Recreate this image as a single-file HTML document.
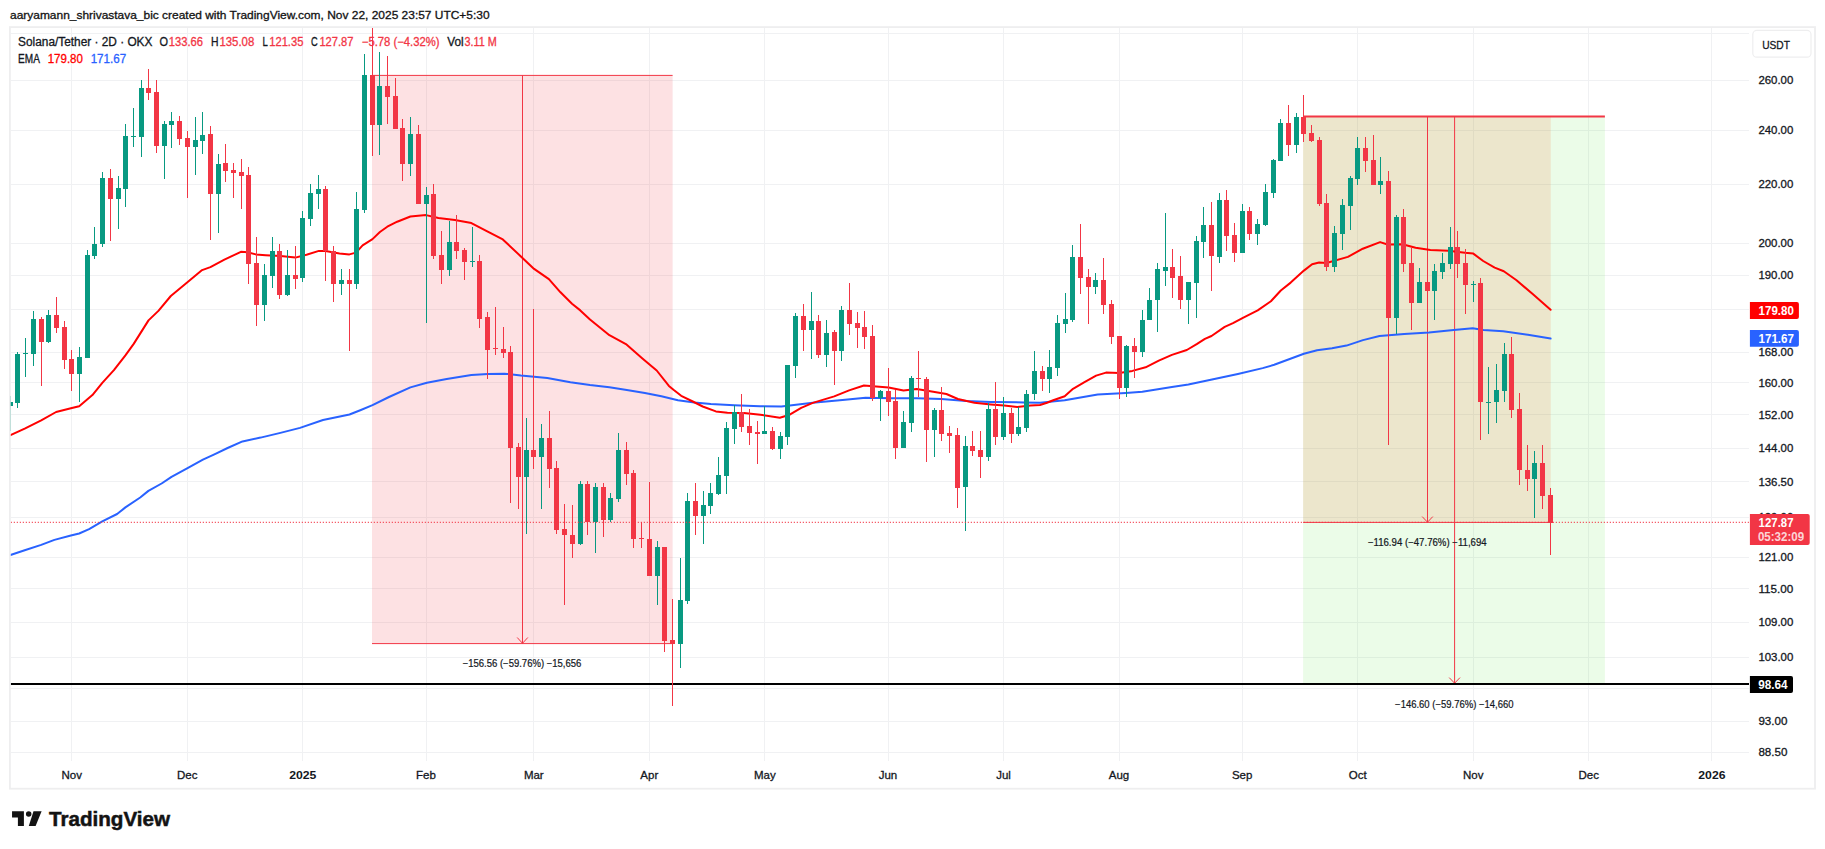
<!DOCTYPE html>
<html><head><meta charset="utf-8"><title>SOLUSDT chart</title>
<style>html,body{margin:0;padding:0;background:#fff;overflow:hidden}body{width:1825px;height:849px}</style></head>
<body>
<svg width="1825" height="849" viewBox="0 0 1825 849" font-family="Liberation Sans, Arial, sans-serif" style="display:block">
<rect width="1825" height="849" fill="#fff"/>
<defs><clipPath id="pane"><rect x="10.8" y="28.0" width="1738.2" height="733.0"/></clipPath></defs>
<rect x="9.9" y="27.1" width="1805.1" height="761.6" fill="none" stroke="#eeeeef" stroke-width="1.8"/>
<g stroke="#f0f1f3" stroke-width="1" shape-rendering="crispEdges">
<line x1="71.5" y1="28.0" x2="71.5" y2="761.0"/>
<line x1="187.5" y1="28.0" x2="187.5" y2="761.0"/>
<line x1="302.5" y1="28.0" x2="302.5" y2="761.0"/>
<line x1="426.5" y1="28.0" x2="426.5" y2="761.0"/>
<line x1="533.5" y1="28.0" x2="533.5" y2="761.0"/>
<line x1="649.5" y1="28.0" x2="649.5" y2="761.0"/>
<line x1="764.5" y1="28.0" x2="764.5" y2="761.0"/>
<line x1="888.5" y1="28.0" x2="888.5" y2="761.0"/>
<line x1="1003.5" y1="28.0" x2="1003.5" y2="761.0"/>
<line x1="1119.5" y1="28.0" x2="1119.5" y2="761.0"/>
<line x1="1242.5" y1="28.0" x2="1242.5" y2="761.0"/>
<line x1="1357.5" y1="28.0" x2="1357.5" y2="761.0"/>
<line x1="1473.5" y1="28.0" x2="1473.5" y2="761.0"/>
<line x1="1588.5" y1="28.0" x2="1588.5" y2="761.0"/>
<line x1="1711.5" y1="28.0" x2="1711.5" y2="761.0"/>
<line x1="10.8" y1="33.5" x2="1749.0" y2="33.5"/>
<line x1="10.8" y1="80.5" x2="1749.0" y2="80.5"/>
<line x1="10.8" y1="130.5" x2="1749.0" y2="130.5"/>
<line x1="10.8" y1="184.5" x2="1749.0" y2="184.5"/>
<line x1="10.8" y1="243.5" x2="1749.0" y2="243.5"/>
<line x1="10.8" y1="275.5" x2="1749.0" y2="275.5"/>
<line x1="10.8" y1="309.5" x2="1749.0" y2="309.5"/>
<line x1="10.8" y1="352.5" x2="1749.0" y2="352.5"/>
<line x1="10.8" y1="382.5" x2="1749.0" y2="382.5"/>
<line x1="10.8" y1="414.5" x2="1749.0" y2="414.5"/>
<line x1="10.8" y1="448.5" x2="1749.0" y2="448.5"/>
<line x1="10.8" y1="481.5" x2="1749.0" y2="481.5"/>
<line x1="10.8" y1="517.5" x2="1749.0" y2="517.5"/>
<line x1="10.8" y1="557.5" x2="1749.0" y2="557.5"/>
<line x1="10.8" y1="588.5" x2="1749.0" y2="588.5"/>
<line x1="10.8" y1="622.5" x2="1749.0" y2="622.5"/>
<line x1="10.8" y1="657.5" x2="1749.0" y2="657.5"/>
<line x1="10.8" y1="688.5" x2="1749.0" y2="688.5"/>
<line x1="10.8" y1="721.5" x2="1749.0" y2="721.5"/>
<line x1="10.8" y1="752.5" x2="1749.0" y2="752.5"/>
</g>
<g clip-path="url(#pane)">
<rect x="1303.1" y="116.6" width="301.8000000000002" height="567.4" fill="rgb(60,230,30)" fill-opacity="0.1"/>
<rect x="1303.1" y="116.6" width="247.70000000000005" height="405.79999999999995" fill="rgb(240,120,60)" fill-opacity="0.16"/>
<rect x="372" y="75.4" width="300.6" height="568.2" fill="#f23645" fill-opacity="0.15"/>
<g stroke="#f23645" stroke-width="1" fill="none">
<line x1="372" y1="75.4" x2="672.6" y2="75.4"/>
<line x1="372" y1="643.6" x2="672.6" y2="643.6"/>
<line x1="522.5" y1="75.4" x2="522.5" y2="643.6"/>
<polyline points="517.2,637.5 522.5,643.3 527.8,637.5"/>
<line x1="1303.1" y1="116.6" x2="1604.9" y2="116.6" stroke-width="2"/>
<line x1="1303.1" y1="522.4" x2="1550.8" y2="522.4"/>
<line x1="1427.5" y1="116.6" x2="1427.5" y2="522.4"/>
<polyline points="1422.2,516.6 1427.5,522.2 1432.8,516.6"/>
<line x1="1454.6" y1="116.6" x2="1454.6" y2="683"/>
<polyline points="1449.2,677.6 1454.6,683.2 1460,677.6"/>
</g>
<line x1="10.8" y1="684" x2="1749.0" y2="684" stroke="#000" stroke-width="2.2"/>
<polyline fill="none" stroke="#2962ff" stroke-width="2" stroke-linejoin="round" stroke-linecap="round" points="10.5,555 24.7,550.3 41.2,544.9 54.4,539.9 70.9,535.5 79.2,533.5 89.1,529.2 102.3,521.4 117.1,514 125.4,507.4 140.2,497.5 148.4,490.9 161.6,483.5 171.5,476.9 188,467.8 202.9,459.6 214.4,454.3 227.6,448 242.5,441.4 260.6,437.6 280.4,432.9 300,427.9 323,420 349.5,414.5 360.9,410 372.5,405.2 389,397 410.4,387.4 426.9,382.7 446.7,378.9 471.4,374.9 487.9,373.9 504.4,373.7 520.9,375.6 547.3,378 570.4,382.2 590,385 609.4,387.3 626.8,390 644.9,393 661.4,396.3 677.9,400.2 694.4,402.4 710.9,404 734,405.2 760,406.3 781.4,406.6 812.8,402.8 842.5,400 865.6,397.8 891.9,398.3 916.7,398.3 941.4,399 966.2,401.1 990.9,401.9 1023.9,402.4 1040,402.8 1064.7,400.3 1097.7,394.5 1125.8,392.9 1142.3,391.7 1171.9,387.1 1188.4,384.6 1213.2,379.2 1237.9,373.9 1262.7,368.1 1274.2,364.8 1303.9,353.8 1317.1,350.3 1332,348.3 1346.5,345.6 1363,340.1 1379.5,336 1404.2,334 1429,332.4 1453.7,329.9 1472.7,328.2 1483.4,329.9 1503.2,331.2 1527.9,334.8 1550.6,338.6"/>
<polyline fill="none" stroke="#ff0000" stroke-width="2" stroke-linejoin="round" stroke-linecap="round" points="10.5,435.2 24.7,428.6 41.2,420.4 56.1,412 70.9,408.3 79.2,406.2 92.4,395.1 102.3,382.8 113.9,370.1 125.4,355.4 133.7,343.9 148.5,320.4 158.4,310.9 170.8,296 186.5,283.1 202.1,270.1 210.4,267.1 224.4,259.7 240.9,251.8 247.5,252.3 255.8,254.4 265.7,255.2 280.5,256.1 295.4,257.6 306.5,254.7 318.9,250.9 325.5,251.1 339.5,253.4 349.4,254.4 356,252.6 362.6,245.3 372.5,239.1 379.9,232 387.3,226.7 397.2,221.7 410.4,216.5 426.1,215.1 438.4,218 454.9,220.1 471.4,223.1 486.3,230.8 502.8,239.4 520.9,256.4 534.1,268.9 548.9,279.1 560.5,292.3 572,303.8 580.3,310.4 590,319.5 609.4,335.2 625.9,344.1 642.4,358.4 656.7,370.5 668.9,385.9 673.8,390 681.2,395.8 692.8,401.5 702.7,406.5 715.9,411.4 727.4,412.8 743.9,413.1 760.4,414.7 779.8,417.7 789.7,414.7 801.2,407.8 812.8,402.9 834.2,396.4 849.1,390.4 863.9,385.5 888.6,387.4 903.5,390.4 916.7,389.1 933.2,391.7 946.4,394 957.9,399 974.4,402.8 990.9,404.4 1004.1,405.6 1017.3,406.9 1030.5,405.6 1040,405 1047,402.8 1053.2,400.3 1064.7,396.2 1073,388.8 1084.5,382.2 1096.1,375.6 1106,372.6 1119.2,373.1 1132.4,370.9 1145.6,367.3 1158.8,360.7 1171.9,354.9 1186.8,350 1196.7,344.2 1204.9,338.9 1211.5,336 1224.7,326.9 1233,323.1 1242.9,317.8 1257.7,310.4 1270.9,301.3 1280.8,290.5 1290.7,282.6 1303.9,270.6 1312.1,264.2 1319.1,262.5 1326.5,263 1347.9,256.9 1362.8,248.7 1380.1,242.1 1387.5,244.5 1402.4,244.2 1415.6,247.8 1430.4,250 1448.5,250.8 1465,252.8 1473.3,253.6 1483.2,261 1494.7,267.6 1503.8,271.3 1516.2,280 1532.7,294 1550.6,309.8"/>
<path d="M10.5 396V431M17.5 352V408M25.5 338V377M33.5 311V366M48.5 310V343M79.5 347V402M87.5 250V358M94.5 227V259M102.5 172V247M118.5 176V229M125.5 124V207M133.5 108V147M141.5 80V157M164.5 121V179M171.5 112V148M195.5 117V175M202.5 112V154M218.5 154V233M264.5 264V321M272.5 237V288M287.5 250V296M302.5 211V282M310.5 184V226M318.5 175V209M341.5 269V295M356.5 192V289M364.5 54V213M379.5 52V155M410.5 117V176M426.5 187V323M449.5 221V276M472.5 227V267M526.5 418V534M541.5 424V509M580.5 481V545M595.5 483V553M610.5 493V522M618.5 433V502M657.5 541V605M680.5 558V668M687.5 493V604M703.5 491V544M710.5 483V514M718.5 457V495M726.5 422V494M734.5 405V444M764.5 406V434M780.5 432V459M787.5 365V445M795.5 313V378M811.5 292V359M826.5 320V367M841.5 306V361M880.5 390V421M903.5 411V448M911.5 376V432M934.5 408V457M965.5 436V531M988.5 403V461M1003.5 397V440M1018.5 407V436M1026.5 390V432M1034.5 351V400M1049.5 350V393M1057.5 315V376M1065.5 293V333M1072.5 245V322M1095.5 273V294M1126.5 345V397M1142.5 310V357M1149.5 288V320M1157.5 263V332M1165.5 213V286M1188.5 282V324M1196.5 236V318M1203.5 207V258M1219.5 193V263M1242.5 204V253M1257.5 219V245M1265.5 184V226M1273.5 159V198M1280.5 119V161M1296.5 113V153M1334.5 226V272M1342.5 199V250M1350.5 176V230M1357.5 137V185M1380.5 157V194M1396.5 215V334M1419.5 268V303M1434.5 264V320M1442.5 253V279M1450.5 227V269M1473.5 281V302M1488.5 367V434M1496.5 364V423M1504.5 343V402M1534.5 451V518" stroke="#089981" stroke-width="1" fill="none"/>
<path d="M41.5 317V386M56.5 297V333M64.5 321V369M71.5 350V391M110.5 169V241M148.5 69V100M156.5 80V153M179.5 116V145M187.5 131V198M210.5 126V240M225.5 144V182M233.5 163V198M241.5 159V209M248.5 167V284M256.5 237V326M279.5 244V299M295.5 246V289M325.5 186V281M333.5 246V302M349.5 269V351M372.5 20V156M387.5 56V124M395.5 78V129M402.5 119V181M418.5 125V204M433.5 184V259M441.5 231V284M456.5 215V259M464.5 248V280M479.5 255V328M487.5 312V379M495.5 307V355M503.5 327V358M510.5 346V503M518.5 443V509M533.5 309V469M549.5 411V488M556.5 461V534M564.5 504V605M572.5 505V558M587.5 481V535M603.5 483V537M626.5 442V485M633.5 470V548M641.5 522V548M649.5 482V576M664.5 547V652M672.5 599V706M695.5 483V535M741.5 394V432M749.5 409V445M757.5 421V464M772.5 427V450M803.5 304V351M818.5 315V358M834.5 330V385M849.5 283V335M857.5 312V348M864.5 311V349M872.5 325V401M888.5 368V416M895.5 390V459M918.5 351V397M926.5 377V462M941.5 387V441M949.5 426V453M957.5 428V508M972.5 431V456M980.5 431V478M995.5 382V445M1011.5 408V443M1042.5 366V391M1080.5 224V294M1088.5 269V324M1103.5 258V314M1111.5 300V344M1119.5 336V399M1134.5 338V378M1172.5 249V298M1180.5 256V309M1211.5 202V291M1226.5 190V251M1234.5 223V262M1249.5 207V240M1288.5 105V156M1303.5 95V142M1311.5 125V142M1319.5 137V206M1326.5 194V271M1365.5 137V172M1373.5 135V185M1388.5 171V445M1403.5 209V272M1411.5 248V330M1427.5 272V298M1457.5 231V278M1465.5 249V314M1480.5 278V440M1511.5 337V418M1519.5 393V485M1527.5 445V491M1542.5 445V509M1550.5 488V555" stroke="#f23645" stroke-width="1" fill="none"/>
<path d="M8 402h5V406h-5zM15 354h5V403h-5zM23 353h5V354h-5zM31 319h5V354h-5zM46 315h5V342h-5zM77 357h5V374h-5zM85 255h5V358h-5zM92 244h5V256h-5zM100 178h5V244h-5zM116 188h5V199h-5zM123 136h5V189h-5zM131 136h5V137h-5zM139 88h5V137h-5zM162 124h5V146h-5zM169 121h5V125h-5zM193 140h5V147h-5zM200 135h5V141h-5zM216 164h5V194h-5zM262 275h5V305h-5zM270 251h5V276h-5zM285 275h5V295h-5zM300 218h5V278h-5zM308 193h5V219h-5zM316 189h5V194h-5zM339 280h5V284h-5zM354 209h5V284h-5zM362 75h5V210h-5zM377 86h5V125h-5zM408 134h5V164h-5zM424 195h5V204h-5zM447 242h5V270h-5zM470 261h5V262h-5zM524 450h5V477h-5zM539 438h5V457h-5zM578 484h5V544h-5zM593 487h5V522h-5zM608 498h5V520h-5zM616 450h5V499h-5zM655 547h5V576h-5zM678 600h5V644h-5zM685 501h5V601h-5zM701 505h5V516h-5zM708 493h5V506h-5zM716 475h5V494h-5zM724 428h5V476h-5zM732 412h5V429h-5zM762 431h5V434h-5zM778 436h5V449h-5zM785 365h5V437h-5zM793 316h5V366h-5zM809 321h5V330h-5zM824 333h5V355h-5zM839 310h5V351h-5zM878 391h5V398h-5zM901 422h5V448h-5zM909 378h5V423h-5zM932 410h5V430h-5zM963 446h5V487h-5zM986 409h5V457h-5zM1001 413h5V437h-5zM1016 427h5V434h-5zM1024 394h5V428h-5zM1032 371h5V394h-5zM1047 367h5V379h-5zM1055 323h5V368h-5zM1063 319h5V324h-5zM1070 257h5V320h-5zM1093 280h5V287h-5zM1124 346h5V388h-5zM1140 320h5V352h-5zM1147 300h5V320h-5zM1155 269h5V300h-5zM1163 267h5V271h-5zM1186 282h5V300h-5zM1194 241h5V283h-5zM1201 225h5V242h-5zM1217 200h5V257h-5zM1240 211h5V253h-5zM1255 224h5V234h-5zM1263 192h5V225h-5zM1271 160h5V193h-5zM1278 123h5V161h-5zM1294 117h5V145h-5zM1332 233h5V267h-5zM1340 205h5V234h-5zM1348 178h5V206h-5zM1355 148h5V179h-5zM1378 181h5V185h-5zM1394 217h5V318h-5zM1417 282h5V303h-5zM1432 271h5V291h-5zM1440 263h5V272h-5zM1448 247h5V264h-5zM1471 284h5V285h-5zM1486 402h5V403h-5zM1494 390h5V402h-5zM1502 354h5V391h-5zM1532 463h5V479h-5z" fill="#089981"/>
<path d="M39 319h5V342h-5zM54 315h5V328h-5zM62 327h5V360h-5zM69 359h5V374h-5zM108 178h5V199h-5zM146 88h5V93h-5zM154 92h5V146h-5zM177 121h5V139h-5zM185 138h5V147h-5zM208 134h5V194h-5zM223 163h5V171h-5zM231 170h5V173h-5zM239 172h5V176h-5zM246 175h5V264h-5zM254 263h5V305h-5zM277 251h5V295h-5zM293 275h5V279h-5zM323 189h5V251h-5zM331 251h5V284h-5zM347 280h5V284h-5zM370 75h5V125h-5zM385 86h5V97h-5zM393 96h5V129h-5zM400 128h5V164h-5zM416 134h5V204h-5zM431 194h5V256h-5zM439 255h5V270h-5zM454 242h5V251h-5zM462 250h5V262h-5zM477 261h5V319h-5zM485 317h5V350h-5zM493 348h5V349h-5zM501 349h5V353h-5zM508 352h5V448h-5zM516 447h5V477h-5zM531 450h5V457h-5zM547 438h5V469h-5zM554 468h5V530h-5zM562 529h5V535h-5zM570 535h5V544h-5zM585 484h5V522h-5zM601 487h5V520h-5zM624 450h5V474h-5zM631 473h5V539h-5zM639 538h5V539h-5zM647 539h5V576h-5zM662 547h5V641h-5zM670 640h5V644h-5zM693 501h5V516h-5zM739 412h5V427h-5zM747 426h5V433h-5zM755 432h5V434h-5zM770 431h5V449h-5zM801 316h5V330h-5zM816 321h5V355h-5zM832 332h5V351h-5zM847 310h5V324h-5zM855 323h5V328h-5zM862 327h5V337h-5zM870 336h5V398h-5zM886 391h5V402h-5zM893 401h5V448h-5zM916 378h5V379h-5zM924 379h5V430h-5zM939 410h5V434h-5zM947 433h5V436h-5zM955 435h5V488h-5zM970 446h5V451h-5zM978 450h5V457h-5zM993 409h5V437h-5zM1009 413h5V434h-5zM1040 371h5V379h-5zM1078 257h5V278h-5zM1086 277h5V287h-5zM1101 280h5V305h-5zM1109 304h5V337h-5zM1117 336h5V388h-5zM1132 346h5V352h-5zM1170 267h5V278h-5zM1178 276h5V300h-5zM1209 225h5V256h-5zM1224 200h5V236h-5zM1232 235h5V253h-5zM1247 211h5V234h-5zM1286 123h5V145h-5zM1301 117h5V134h-5zM1309 133h5V141h-5zM1317 140h5V204h-5zM1324 203h5V267h-5zM1363 148h5V161h-5zM1371 160h5V185h-5zM1386 181h5V318h-5zM1401 217h5V264h-5zM1409 263h5V303h-5zM1425 282h5V291h-5zM1455 247h5V264h-5zM1463 263h5V285h-5zM1478 283h5V402h-5zM1509 354h5V410h-5zM1517 409h5V470h-5zM1525 470h5V479h-5zM1540 463h5V496h-5zM1548 495h5V523h-5z" fill="#f23645"/>
<line x1="10.8" y1="522.4" x2="1749.0" y2="522.4" stroke="#f23645" stroke-width="1.1" stroke-dasharray="1 2"/>
<text x="522" y="666.8" font-size="10" font-weight="normal" fill="#131722" stroke="#131722" stroke-width="0.2" text-anchor="middle" textLength="118.7" lengthAdjust="spacingAndGlyphs">−156.56 (−59.76%) −15,656</text>
<text x="1427.3" y="546.4" font-size="10" font-weight="normal" fill="#131722" stroke="#131722" stroke-width="0.2" text-anchor="middle" textLength="118.8" lengthAdjust="spacingAndGlyphs">−116.94 (−47.76%) −11,694</text>
<text x="1454.3" y="708.2" font-size="10" font-weight="normal" fill="#131722" stroke="#131722" stroke-width="0.2" text-anchor="middle" textLength="118.4" lengthAdjust="spacingAndGlyphs">−146.60 (−59.76%) −14,660</text>
</g>
<text x="1758.4" y="83.9" font-size="11.5" font-weight="normal" fill="#131722" stroke="#131722" stroke-width="0.3" text-anchor="start" textLength="34.9" lengthAdjust="spacingAndGlyphs">260.00</text>
<text x="1758.4" y="133.81" font-size="11.5" font-weight="normal" fill="#131722" stroke="#131722" stroke-width="0.3" text-anchor="start" textLength="34.9" lengthAdjust="spacingAndGlyphs">240.00</text>
<text x="1758.4" y="188.06" font-size="11.5" font-weight="normal" fill="#131722" stroke="#131722" stroke-width="0.3" text-anchor="start" textLength="34.9" lengthAdjust="spacingAndGlyphs">220.00</text>
<text x="1758.4" y="247.48" font-size="11.5" font-weight="normal" fill="#131722" stroke="#131722" stroke-width="0.3" text-anchor="start" textLength="34.9" lengthAdjust="spacingAndGlyphs">200.00</text>
<text x="1758.4" y="279.47" font-size="11.5" font-weight="normal" fill="#131722" stroke="#131722" stroke-width="0.3" text-anchor="start" textLength="34.9" lengthAdjust="spacingAndGlyphs">190.00</text>
<text x="1758.4" y="356.19" font-size="11.5" font-weight="normal" fill="#131722" stroke="#131722" stroke-width="0.3" text-anchor="start" textLength="34.9" lengthAdjust="spacingAndGlyphs">168.00</text>
<text x="1758.4" y="386.61" font-size="11.5" font-weight="normal" fill="#131722" stroke="#131722" stroke-width="0.3" text-anchor="start" textLength="34.9" lengthAdjust="spacingAndGlyphs">160.00</text>
<text x="1758.4" y="418.6" font-size="11.5" font-weight="normal" fill="#131722" stroke="#131722" stroke-width="0.3" text-anchor="start" textLength="34.9" lengthAdjust="spacingAndGlyphs">152.00</text>
<text x="1758.4" y="452.31" font-size="11.5" font-weight="normal" fill="#131722" stroke="#131722" stroke-width="0.3" text-anchor="start" textLength="34.9" lengthAdjust="spacingAndGlyphs">144.00</text>
<text x="1758.4" y="485.66" font-size="11.5" font-weight="normal" fill="#131722" stroke="#131722" stroke-width="0.3" text-anchor="start" textLength="34.9" lengthAdjust="spacingAndGlyphs">136.50</text>
<text x="1758.4" y="520.89" font-size="11.5" font-weight="normal" fill="#131722" stroke="#131722" stroke-width="0.3" text-anchor="start" textLength="34.9" lengthAdjust="spacingAndGlyphs">129.00</text>
<text x="1758.4" y="560.81" font-size="11.5" font-weight="normal" fill="#131722" stroke="#131722" stroke-width="0.3" text-anchor="start" textLength="34.9" lengthAdjust="spacingAndGlyphs">121.00</text>
<text x="1758.4" y="592.52" font-size="11.5" font-weight="normal" fill="#131722" stroke="#131722" stroke-width="0.3" text-anchor="start" textLength="34.9" lengthAdjust="spacingAndGlyphs">115.00</text>
<text x="1758.4" y="625.93" font-size="11.5" font-weight="normal" fill="#131722" stroke="#131722" stroke-width="0.3" text-anchor="start" textLength="34.9" lengthAdjust="spacingAndGlyphs">109.00</text>
<text x="1758.4" y="661.23" font-size="11.5" font-weight="normal" fill="#131722" stroke="#131722" stroke-width="0.3" text-anchor="start" textLength="34.9" lengthAdjust="spacingAndGlyphs">103.00</text>
<text x="1758.4" y="724.91" font-size="11.5" font-weight="normal" fill="#131722" stroke="#131722" stroke-width="0.3" text-anchor="start" textLength="29" lengthAdjust="spacingAndGlyphs">93.00</text>
<text x="1758.4" y="755.83" font-size="11.5" font-weight="normal" fill="#131722" stroke="#131722" stroke-width="0.3" text-anchor="start" textLength="29" lengthAdjust="spacingAndGlyphs">88.50</text>
<path d="M1749.9 302H1796.9Q1798.9 302 1798.9 304V316.9Q1798.9 318.9 1796.9 318.9H1749.9z" fill="#ff0000"/>
<text x="1758.6" y="315" font-size="12.3" font-weight="bold" fill="#fff" text-anchor="start" textLength="35.3" lengthAdjust="spacingAndGlyphs">179.80</text>
<path d="M1749.9 330H1796.9Q1798.9 330 1798.9 332V344.8Q1798.9 346.8 1796.9 346.8H1749.9z" fill="#2962ff"/>
<text x="1758.6" y="343" font-size="12.3" font-weight="bold" fill="#fff" text-anchor="start" textLength="35.3" lengthAdjust="spacingAndGlyphs">171.67</text>
<path d="M1749.9 513.9H1807.7Q1809.7 513.9 1809.7 515.9V542.9Q1809.7 544.9 1807.7 544.9H1749.9z" fill="#f23645"/>
<text x="1758.6" y="526.6" font-size="12.3" font-weight="bold" fill="#fff" text-anchor="start" textLength="34.9" lengthAdjust="spacingAndGlyphs">127.87</text>
<text x="1757.9" y="540.6" font-size="12.2" font-weight="bold" fill="#fff" text-anchor="start" textLength="46.2" lengthAdjust="spacingAndGlyphs" fill-opacity="0.8">05:32:09</text>
<path d="M1749.9 675.9H1791Q1793 675.9 1793 677.9V690.9Q1793 692.9 1791 692.9H1749.9z" fill="#000"/>
<text x="1758.2" y="688.8" font-size="12.3" font-weight="bold" fill="#fff" text-anchor="start" textLength="29.4" lengthAdjust="spacingAndGlyphs">98.64</text>
<rect x="1752.8" y="30.4" width="58.2" height="26.8" rx="4" fill="#fff" stroke="#eeeeef" stroke-width="1.2"/>
<text x="1762.2" y="49" font-size="11.5" font-weight="normal" fill="#131722" stroke="#131722" stroke-width="0.3" text-anchor="start" textLength="27.8" lengthAdjust="spacingAndGlyphs">USDT</text>
<text x="71.8" y="779.3" font-size="11.5" font-weight="normal" fill="#131722" stroke="#131722" stroke-width="0.3" text-anchor="middle">Nov</text>
<text x="187.3" y="779.3" font-size="11.5" font-weight="normal" fill="#131722" stroke="#131722" stroke-width="0.3" text-anchor="middle">Dec</text>
<text x="302.8" y="779.3" font-size="11.5" font-weight="bold" fill="#131722" text-anchor="middle" textLength="27.2" lengthAdjust="spacingAndGlyphs">2025</text>
<text x="426" y="779.3" font-size="11.5" font-weight="normal" fill="#131722" stroke="#131722" stroke-width="0.3" text-anchor="middle">Feb</text>
<text x="533.8" y="779.3" font-size="11.5" font-weight="normal" fill="#131722" stroke="#131722" stroke-width="0.3" text-anchor="middle">Mar</text>
<text x="649.3" y="779.3" font-size="11.5" font-weight="normal" fill="#131722" stroke="#131722" stroke-width="0.3" text-anchor="middle">Apr</text>
<text x="764.8" y="779.3" font-size="11.5" font-weight="normal" fill="#131722" stroke="#131722" stroke-width="0.3" text-anchor="middle">May</text>
<text x="888" y="779.3" font-size="11.5" font-weight="normal" fill="#131722" stroke="#131722" stroke-width="0.3" text-anchor="middle">Jun</text>
<text x="1003.5" y="779.3" font-size="11.5" font-weight="normal" fill="#131722" stroke="#131722" stroke-width="0.3" text-anchor="middle">Jul</text>
<text x="1119" y="779.3" font-size="11.5" font-weight="normal" fill="#131722" stroke="#131722" stroke-width="0.3" text-anchor="middle">Aug</text>
<text x="1242.2" y="779.3" font-size="11.5" font-weight="normal" fill="#131722" stroke="#131722" stroke-width="0.3" text-anchor="middle">Sep</text>
<text x="1357.7" y="779.3" font-size="11.5" font-weight="normal" fill="#131722" stroke="#131722" stroke-width="0.3" text-anchor="middle">Oct</text>
<text x="1473.2" y="779.3" font-size="11.5" font-weight="normal" fill="#131722" stroke="#131722" stroke-width="0.3" text-anchor="middle">Nov</text>
<text x="1588.7" y="779.3" font-size="11.5" font-weight="normal" fill="#131722" stroke="#131722" stroke-width="0.3" text-anchor="middle">Dec</text>
<text x="1711.9" y="779.3" font-size="11.5" font-weight="bold" fill="#131722" text-anchor="middle" textLength="27.2" lengthAdjust="spacingAndGlyphs">2026</text>
<text x="10" y="18.6" font-size="11.5" font-weight="normal" fill="#131313" stroke="#131313" stroke-width="0.3" text-anchor="start" textLength="479.6" lengthAdjust="spacingAndGlyphs">aaryamann_shrivastava_bic created with TradingView.com, Nov 22, 2025 23:57 UTC+5:30</text>
<text x="18.1" y="45.5" font-size="12" font-weight="normal" fill="#131722" stroke="#131722" stroke-width="0.3" text-anchor="start" textLength="134.3" lengthAdjust="spacingAndGlyphs">Solana/Tether · 2D · OKX</text>
<text x="159.5" y="45.5" font-size="12" font-weight="normal" fill="#131722" stroke="#131722" stroke-width="0.3" text-anchor="start" textLength="8.5" lengthAdjust="spacingAndGlyphs">O</text>
<text x="168.8" y="45.5" font-size="12" font-weight="normal" fill="#f23645" stroke="#f23645" stroke-width="0.3" text-anchor="start" textLength="34.2" lengthAdjust="spacingAndGlyphs">133.66</text>
<text x="211.1" y="45.5" font-size="12" font-weight="normal" fill="#131722" stroke="#131722" stroke-width="0.3" text-anchor="start" textLength="7.5" lengthAdjust="spacingAndGlyphs">H</text>
<text x="219.4" y="45.5" font-size="12" font-weight="normal" fill="#f23645" stroke="#f23645" stroke-width="0.3" text-anchor="start" textLength="34.9" lengthAdjust="spacingAndGlyphs">135.08</text>
<text x="262.5" y="45.5" font-size="12" font-weight="normal" fill="#131722" stroke="#131722" stroke-width="0.3" text-anchor="start" textLength="5.3" lengthAdjust="spacingAndGlyphs">L</text>
<text x="269.2" y="45.5" font-size="12" font-weight="normal" fill="#f23645" stroke="#f23645" stroke-width="0.3" text-anchor="start" textLength="34.2" lengthAdjust="spacingAndGlyphs">121.35</text>
<text x="311" y="45.5" font-size="12" font-weight="normal" fill="#131722" stroke="#131722" stroke-width="0.3" text-anchor="start" textLength="6.7" lengthAdjust="spacingAndGlyphs">C</text>
<text x="319.4" y="45.5" font-size="12" font-weight="normal" fill="#f23645" stroke="#f23645" stroke-width="0.3" text-anchor="start" textLength="33.9" lengthAdjust="spacingAndGlyphs">127.87</text>
<text x="361.8" y="45.5" font-size="12" font-weight="normal" fill="#f23645" stroke="#f23645" stroke-width="0.3" text-anchor="start" textLength="77.7" lengthAdjust="spacingAndGlyphs">−5.78 (−4.32%)</text>
<text x="447.3" y="45.5" font-size="12" font-weight="normal" fill="#131722" stroke="#131722" stroke-width="0.3" text-anchor="start" textLength="16.4" lengthAdjust="spacingAndGlyphs">Vol</text>
<text x="464.4" y="45.5" font-size="12" font-weight="normal" fill="#f23645" stroke="#f23645" stroke-width="0.3" text-anchor="start" textLength="32.3" lengthAdjust="spacingAndGlyphs">3.11 M</text>
<text x="18.1" y="62.7" font-size="12" font-weight="normal" fill="#131722" stroke="#131722" stroke-width="0.3" text-anchor="start" textLength="21.8" lengthAdjust="spacingAndGlyphs">EMA</text>
<text x="47.7" y="62.7" font-size="12" font-weight="normal" fill="#ff0000" stroke="#ff0000" stroke-width="0.3" text-anchor="start" textLength="35.2" lengthAdjust="spacingAndGlyphs">179.80</text>
<text x="90.7" y="62.7" font-size="12" font-weight="normal" fill="#2962ff" stroke="#2962ff" stroke-width="0.3" text-anchor="start" textLength="35.4" lengthAdjust="spacingAndGlyphs">171.67</text>
<g fill="#131313">
<path d="M12.05 811.2H23.9V825.9H17.9V817.5H12.05z"/>
<circle cx="28.7" cy="813.9" r="2.75"/>
<path d="M33.5 811.2H41.6L35.6 825.9H28.8z"/>
</g>
<text x="49" y="825.7" font-size="20" font-weight="bold" fill="#131313" text-anchor="start" textLength="121" lengthAdjust="spacingAndGlyphs" stroke="#131313" stroke-width="0.5">TradingView</text>
</svg>
</body></html>
